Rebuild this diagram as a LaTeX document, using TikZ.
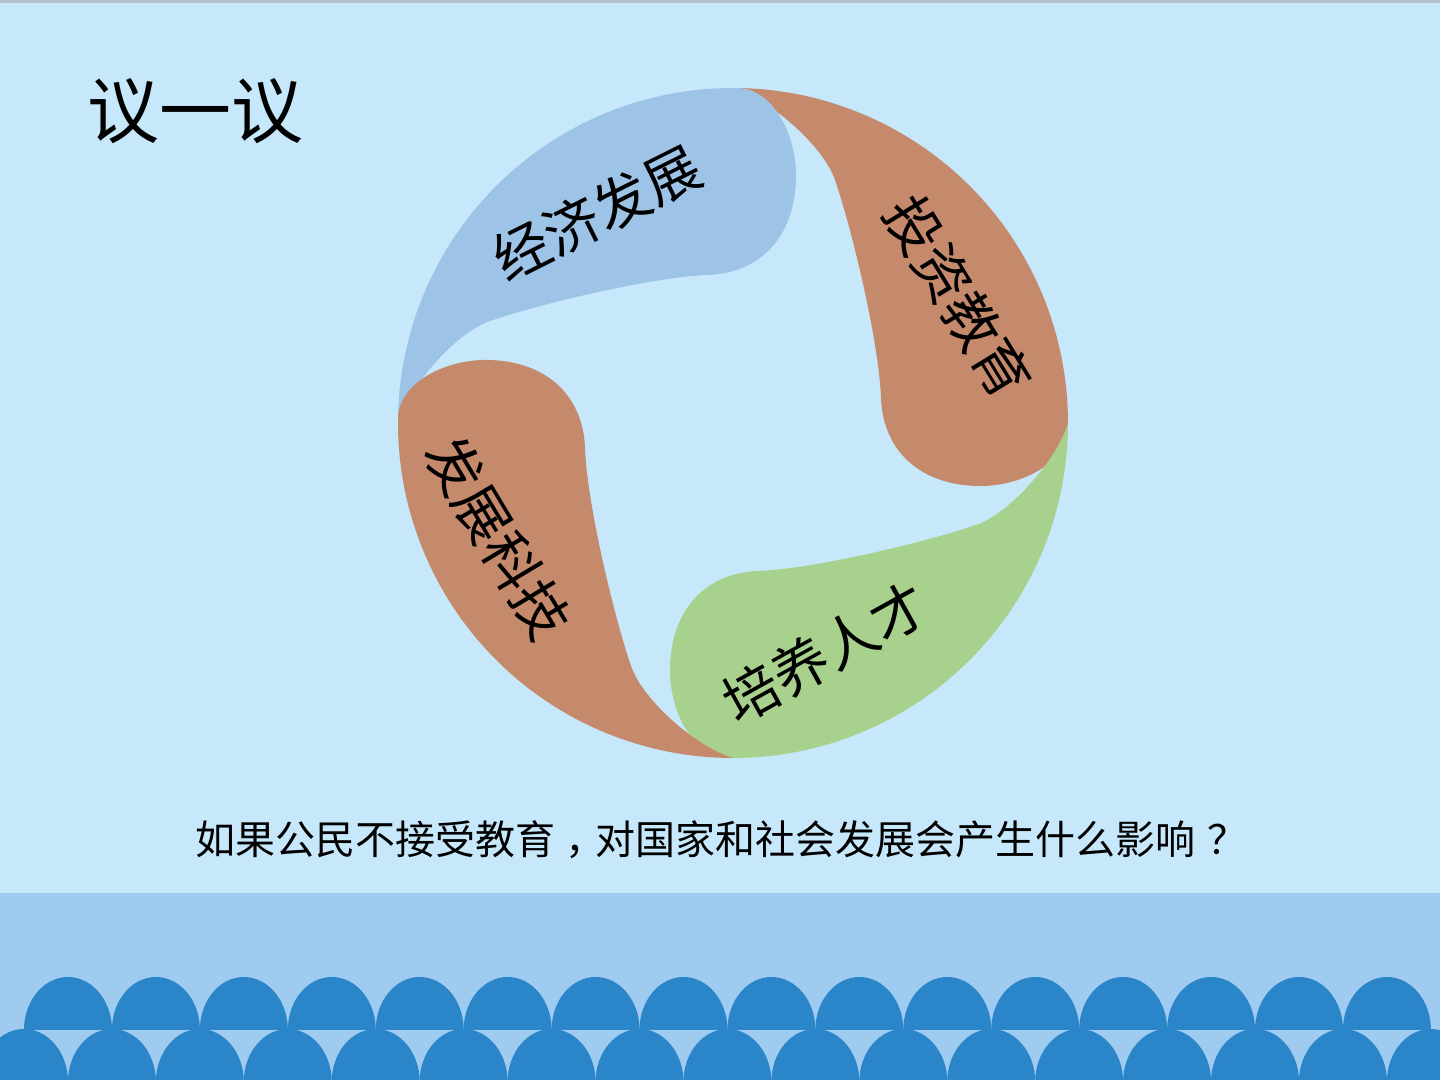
\documentclass[tikz,border=0pt]{standalone}
\usepackage{fontspec}
\newfontfamily\cjk{Noto Sans CJK SC}
\definecolor{bg}{HTML}{C6E8FA}
\definecolor{topline}{HTML}{B4C3CD}
\definecolor{band}{HTML}{9ECBEF}
\definecolor{dome}{HTML}{2A86C9}
\definecolor{bluec}{HTML}{9DC3E6}
\definecolor{brownc}{HTML}{C5896B}
\definecolor{greenc}{HTML}{A9D18E}
\tikzset{
  lbl/.style={font=\cjk\fontsize{28}{32}\selectfont, inner sep=0pt, text=black},
  domeshape/.style={fill=dome}
}
\begin{document}
\begin{tikzpicture}[x=0.5pt,y=0.5pt]
\useasboundingbox (0,0) rectangle (1440,1080);
\fill[bg] (0,0) rectangle (1440,1080);
\fill[topline] (0,1077) rectangle (1440,1080);
\fill[band] (0,0) rectangle (1440,187);
\begin{scope}
\clip (0,0) rectangle (1440,1080);
\foreach \k in {0,...,15} {
  \fill[domeshape] ({68+87.93*\k-44},50) arc[start angle=180,end angle=0,x radius=44,y radius=53] -- cycle;
}
\foreach \k in {0,...,16} {
  \fill[domeshape] ({24+87.93*\k-44},-2) arc[start angle=180,end angle=0,x radius=44,y radius=53] -- cycle;
}
\end{scope}
\foreach \r/\c in {0/brownc, 90/bluec, -90/greenc, 180/brownc} {
  \fill[\c, shift={(733,657)}, rotate=\r]
    (0,335) arc[start angle=90, end angle=-1.03, radius=335]
    .. controls (333,-40) and (290,-62) .. (250,-63)
    .. controls (190,-64) and (150,-30) .. (148,25)
    .. controls (146,80) and (120,190) .. (102,243)
    .. controls (90,278) and (35,325) .. (0,335) -- cycle;
}
\node[lbl, rotate=26.6] (econ) at (597,867) {经济发展};
\node[lbl, rotate=-58.5] (invest) at (958,783) {投资教育};
\node[lbl, rotate=29] (talent) at (825,427) {培养人才};
\node[lbl, rotate=-59] (tech) at (498,542) {发展科技};
\node[font=\cjk\fontsize{36}{40}\selectfont, inner sep=0pt] (title) at (195,969) {议一议};
\node[font=\cjk\fontsize{20}{24}\selectfont, inner sep=0pt] (question) at (721,240) {如果公民不接受教育\kern0.25em，\kern-0.25em对国家和社会发展会产生什么影响\kern0.3em？};
\end{tikzpicture}
\end{document}
